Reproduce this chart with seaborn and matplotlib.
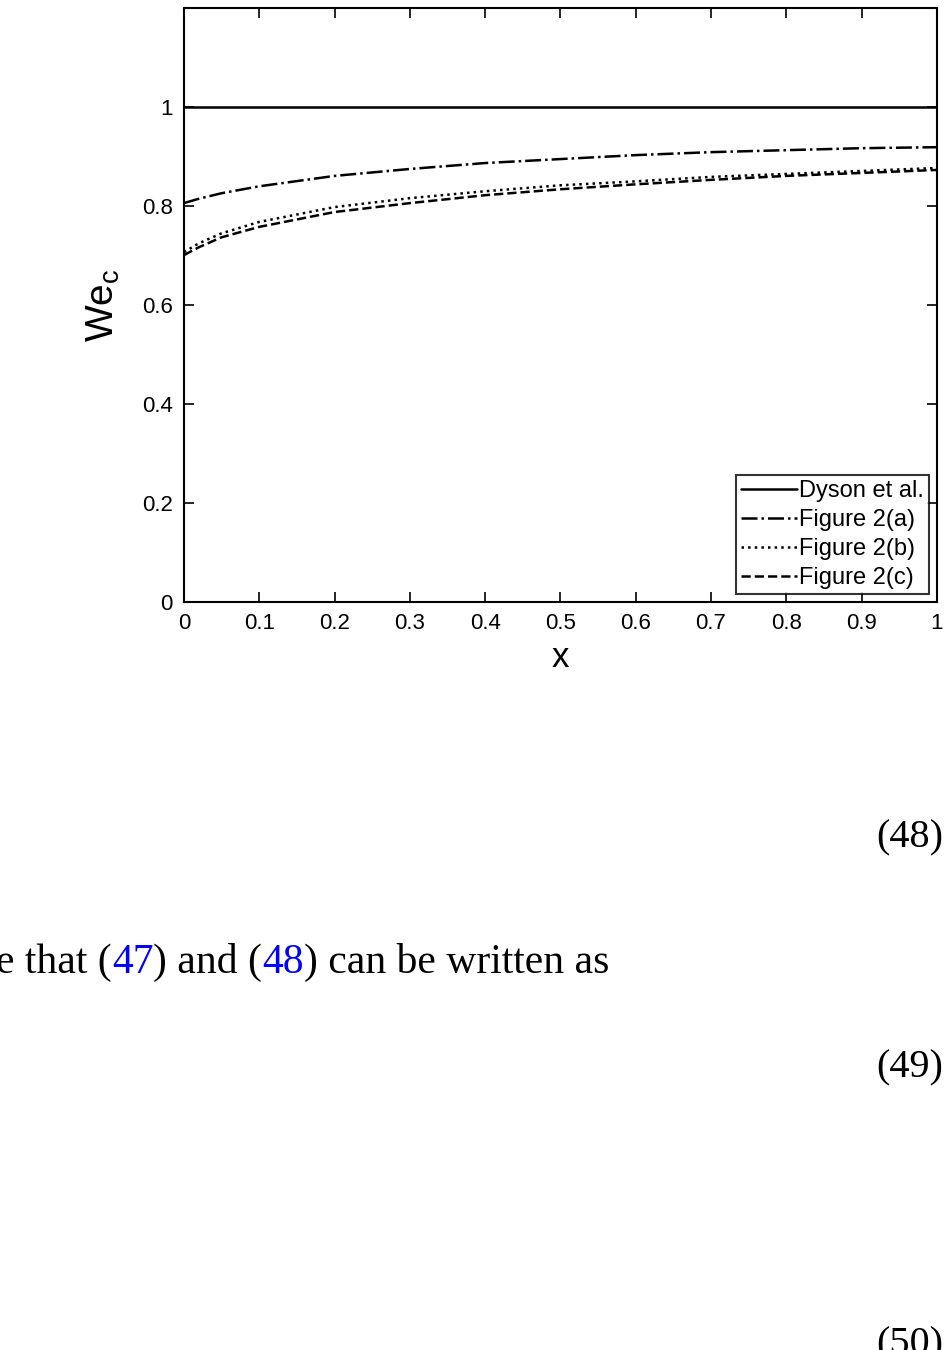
import numpy as np
import pandas as pd
import matplotlib
matplotlib.use("Agg")
import matplotlib.pyplot as plt
import seaborn as sns
from matplotlib.offsetbox import TextArea, HPacker, AnchoredOffsetbox

# Curve values
x_dyson = [0.0, 1.0]
we_dyson = [1.0, 1.0]

x_a = [0.0, 0.02, 0.05, 0.1, 0.2, 0.3, 0.4, 0.5, 0.6, 0.7, 0.8, 0.9, 1.0]
we_a = [0.806, 0.815, 0.826, 0.840, 0.861, 0.875, 0.887, 0.895, 0.903, 0.909, 0.913, 0.917, 0.919]

x_b = [0.0, 0.02, 0.05, 0.1, 0.2, 0.3, 0.4, 0.5, 0.6, 0.7, 0.8, 0.9, 1.0]
we_b = [0.707, 0.725, 0.745, 0.768, 0.798, 0.816, 0.830, 0.842, 0.850, 0.859, 0.865, 0.871, 0.877]

x_c = [0.0, 0.02, 0.05, 0.1, 0.2, 0.3, 0.4, 0.5, 0.6, 0.7, 0.8, 0.9, 1.0]
we_c = [0.701, 0.717, 0.737, 0.758, 0.788, 0.806, 0.822, 0.834, 0.844, 0.853, 0.861, 0.867, 0.873]

labels = ["Dyson et al.", "Figure 2(a)", "Figure 2(b)", "Figure 2(c)"]
styles = ["-", "-.", ":", "--"]

xticks = [0, 0.1, 0.2, 0.3, 0.4, 0.5, 0.6, 0.7, 0.8, 0.9, 1]
xtick_labels = ["0", "0.1", "0.2", "0.3", "0.4", "0.5", "0.6", "0.7", "0.8", "0.9", "1"]
yticks = [0, 0.2, 0.4, 0.6, 0.8, 1.0]
ytick_labels = ["0", "0.2", "0.4", "0.6", "0.8", "1"]

sns.set_theme(style="white")
plt.rcParams["font.family"] = ["Liberation Sans", "DejaVu Sans"]

fig = plt.figure(figsize=(9.53, 13.5), dpi=100)
ax = fig.add_axes([0.193, 0.554, 0.790, 0.440])

series = [(x_dyson, we_dyson), (x_a, we_a), (x_b, we_b), (x_c, we_c)]
for (xs, ys), lab, ls in zip(series, labels, styles):
    df = pd.DataFrame({"x": xs, "We": ys})
    sns.lineplot(data=df, x="x", y="We", ax=ax, color="black", lw=1.8,
                 linestyle=ls, label=lab)

ax.set_xlim(0, 1)
ax.set_ylim(0, 1.2)
ax.set_xticks(xticks)
ax.set_xticklabels(xtick_labels)
ax.set_yticks(yticks)
ax.set_yticklabels(ytick_labels)
ax.tick_params(direction="in", length=7, width=1.2, labelsize=16, colors="black",
               top=True, right=True, bottom=True, left=True, pad=8)
for sp in ax.spines.values():
    sp.set_color("black")
    sp.set_linewidth(1.5)

ax.set_xlabel("x", fontsize=25, labelpad=5, color="black")
ax.set_ylabel(r"We$_\mathregular{c}$", fontsize=28, labelpad=14, color="black")

leg = ax.legend(loc="lower right", fontsize=17, frameon=True, fancybox=False,
                borderpad=0.2, labelspacing=0.3, handlelength=2.35,
                handletextpad=0.1, borderaxespad=0.35)
leg.get_frame().set_edgecolor("black")
leg.get_frame().set_linewidth(1.5)
for t in leg.get_texts():
    t.set_color("black")

# page text below the figure
serif = dict(fontfamily="Liberation Serif", fontsize=29, color="black")
fig.text(0.990, 0.379, "(48)", ha="right", va="center", **serif)
fig.text(0.990, 0.209, "(49)", ha="right", va="center", **serif)
fig.text(0.990, 0.004, "(50)", ha="right", va="center", **serif)

parts = [("e that (", "black"), ("47", "blue"), (") and (", "black"),
         ("48", "blue"), (") can be written as", "black")]
boxes = [TextArea(t, textprops=dict(fontfamily="Liberation Serif", fontsize=30, color=c))
         for t, c in parts]
row = HPacker(children=boxes, pad=0, sep=0, align="baseline")
anch = AnchoredOffsetbox(loc="center left", child=row, frameon=False, pad=0,
                         bbox_to_anchor=(-0.004, 0.287), bbox_transform=fig.transFigure,
                         borderpad=0)
fig.add_artist(anch)

fig.savefig("out.png", dpi=100, facecolor="white")
